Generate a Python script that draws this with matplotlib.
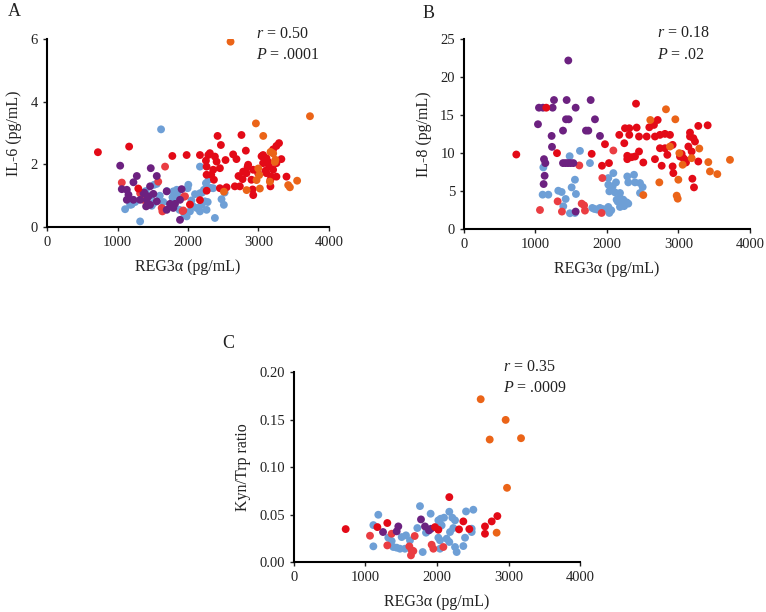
import matplotlib
matplotlib.use("Agg")
import matplotlib.pyplot as plt

plt.rcParams['font.family'] = ['Liberation Serif', 'DejaVu Serif']
plt.rcParams['mathtext.fontset'] = 'custom'
plt.rcParams['mathtext.it'] = 'Liberation Serif:italic'
plt.rcParams['mathtext.rm'] = 'Liberation Serif'

RED = '#E30A17'
LRED = '#EA3D42'
ORANGE = '#EB6418'
PURPLE = '#6C2180'
BLUE = '#6E9FD6'

# ---- Panel A : IL-6 vs REG3a ----
a_blue_x = [1618, 2170, 2005, 1995, 1557, 1792, 1840, 1321, 1108, 1179, 2075, 2028, 1981,
            2170, 2226, 2255, 2292, 2358, 2193, 2264, 2123, 2170, 2476, 2509, 2382, 2241,
            1509, 1792, 1840, 1486, 1200, 1250, 1340, 1400, 1430, 1480, 1520, 1600, 1650,
            1700, 1750, 1780, 1850, 1880, 1950, 2050, 2100, 2150, 2200, 2320, 2280, 2520]
a_blue_y = [3.12, 1.93, 1.35, 1.24, 1.38, 1.14, 1.19, 0.18, 0.57, 0.71, 0.66, 0.50, 0.34,
            1.08, 1.19, 1.40, 1.51, 1.24, 0.71, 0.55, 0.61, 0.50, 0.89, 0.71, 0.29, 0.82,
            0.76, 0.87, 1.03, 0.68, 0.72, 0.80, 1.10, 1.15, 0.70, 1.00, 1.35, 1.00, 0.80,
            1.15, 0.70, 0.95, 1.10, 0.55, 0.40, 0.85, 1.05, 0.60, 1.10, 1.25, 0.80, 1.10]
a_lred_x = [1061, 1675, 1934, 1627, 1637, 1321, 1368, 1958, 1578, 1943, 1924]
a_lred_y = [1.42, 1.93, 0.53, 0.61, 0.50, 1.08, 0.87, 0.98, 1.45, 0.97, 0.51]
a_purple_x = [1038, 1472, 1557, 1274, 1226, 1061, 1132, 1156, 1132, 1226, 1368, 1415, 1462,
              1439, 1509, 1557, 1406, 1462, 1698, 1745, 1792, 1698, 1887, 1910, 1887, 1816,
              1321, 1380]
a_purple_y = [1.96, 1.88, 1.63, 1.63, 1.43, 1.21, 1.19, 1.03, 0.87, 0.87, 1.08, 0.87, 1.30,
              0.98, 1.06, 0.82, 0.66, 0.71, 1.14, 0.74, 0.61, 0.55, 0.87, 1.21, 0.23, 0.74,
              0.87, 1.10]
a_red_x = [722, 1165, 1778, 1981, 2420, 2759, 2467, 2311, 2170, 2382, 2255, 2406, 2533, 2264,
           2358, 2453, 2641, 2688, 2821, 3066, 3113, 3066, 3151, 3208, 3255, 3208, 3255, 3292,
           3325, 3184, 3255, 3170, 3113, 3170, 3398, 2264, 2330, 2368, 2453, 2548, 2665, 2736,
           2717, 2783, 2854, 2925, 2995, 2901, 2830, 2917, 2926, 2265, 2170, 2028, 1295, 2288,
           3044, 3138, 3101, 2846, 2775]
a_red_y = [2.39, 2.57, 2.27, 2.30, 2.91, 2.94, 2.62, 2.36, 2.30, 2.25, 2.12, 2.09, 2.14, 1.93,
           1.83, 1.88, 2.32, 2.17, 2.44, 2.30, 2.20, 2.04, 1.93, 1.83, 2.04, 2.48, 2.59, 2.68,
           2.17, 1.61, 1.61, 1.30, 1.72, 1.51, 1.61, 1.67, 1.67, 1.51, 1.24, 1.27, 1.30, 1.30,
           1.63, 1.77, 1.99, 1.83, 1.72, 1.51, 1.72, 1.20, 1.02, 1.16, 0.86, 0.72, 1.23, 2.30,
           2.26, 2.08, 1.80, 1.92, 1.53]
a_orange_x = [2604, 3731, 2964, 3068, 3172, 3233, 3209, 2997, 3011, 2973, 3020, 2832, 2510,
              3162, 3422, 3446, 3549, 3240]
a_orange_y = [5.92, 3.54, 3.31, 2.91, 2.40, 2.08, 2.35, 1.87, 1.66, 1.50, 1.23, 1.18, 1.13,
              1.45, 1.34, 1.27, 1.48, 2.15]

# ---- Panel B : IL-8 vs REG3a ----
b_blue_x = [1478, 1622, 1762, 1110, 1100, 1180, 1319, 1366, 1422, 1389, 1506, 1552, 1552,
            1566, 1482, 1795, 1823, 1902, 2019, 2033, 2019, 2089, 2019, 2079, 2033, 2112,
            2135, 2126, 2182, 2182, 2228, 2205, 2275, 2182, 2252, 2298, 2284, 2298, 2378,
            2392, 2462, 2499, 2462, 1860, 1950, 2060, 2150, 2240]
b_blue_y = [9.58, 10.28, 8.67, 8.10, 4.51, 4.51, 5.03, 4.86, 3.94, 2.98, 5.47, 6.48, 2.10,
            4.60, 2.06, 2.76, 2.63, 2.76, 2.89, 2.10, 6.70, 7.35, 5.82, 5.60, 4.95, 4.81,
            3.85, 6.13, 4.73, 4.07, 3.85, 3.19, 3.50, 2.89, 3.33, 3.33, 6.91, 6.13, 7.13,
            6.13, 6.04, 5.51, 4.73, 2.55, 2.60, 2.45, 3.60, 3.00]
b_lred_x = [1063, 1310, 1370, 1613, 1646, 1680, 1692, 1925, 1935, 2089]
b_lred_y = [2.49, 3.63, 2.28, 8.36, 3.33, 3.10, 2.41, 2.10, 6.70, 10.33]
b_purple_x = [1459, 1049, 1105, 1240, 1259, 1436, 1562, 1772, 1035, 1427, 1464, 1832, 1385,
              1706, 1739, 1226, 1902, 1231, 1119, 1138, 1128, 1114, 1385, 1420, 1455, 1490,
              1530, 1562]
b_purple_y = [22.19, 15.97, 15.97, 15.97, 16.98, 16.98, 15.97, 16.98, 13.79, 14.44, 14.44,
              14.44, 12.95, 12.95, 12.95, 12.25, 12.25, 10.81, 9.19, 8.67, 7.00, 5.91, 8.67,
              8.67, 8.67, 8.67, 8.67, 2.28]
b_red_x = [732, 1151, 1301, 1786, 1930, 1972, 2028, 2172, 2242, 2252, 2312, 2312, 2406, 2415,
           2448, 2555, 2284, 2284, 2345, 2392, 2448, 2508, 2592, 2657, 2709, 2671, 2741, 2811,
           2881, 2671, 2741, 2811, 2844, 2765, 2918, 2918, 2928, 3021, 3044, 3068, 3105, 3161,
           3161, 3208, 3231, 3138, 3184, 3091, 3277, 3194, 3217, 3277, 3408]
b_red_y = [9.80, 15.97, 9.98, 9.89, 8.32, 11.16, 8.67, 12.39, 11.29, 13.26, 13.26, 12.39, 16.50,
           13.35, 12.17, 12.17, 9.63, 9.19, 9.45, 9.54, 10.20, 8.75, 13.39, 13.70, 14.35, 12.17,
           12.39, 12.52, 12.39, 9.19, 10.63, 10.63, 9.76, 8.32, 11.07, 8.23, 7.35, 9.54, 9.89,
           9.32, 8.75, 12.17, 12.69, 11.95, 11.51, 10.85, 10.20, 9.10, 13.57, 6.61, 5.47, 8.88,
           13.65]
b_orange_x = [2825, 2606, 2956, 2508, 2732, 2975, 2989, 2998, 3012, 3058, 3291, 3417, 3440,
              3543, 3720, 2881, 3184]
b_orange_y = [15.76, 14.35, 14.44, 4.46, 6.13, 4.38, 3.98, 6.48, 9.98, 8.45, 10.59, 8.80, 7.57,
              7.22, 9.10, 10.85, 9.32]

# ---- Panel C : Kyn/Trp ratio vs REG3a ----
c_blue_x = [1179, 1110, 1110, 1319, 1366, 1389, 1436, 1482, 1552, 1506, 1566, 1622, 1762,
            1800, 1911, 1725, 1846, 2019, 2051, 2098, 2172, 2214, 2252, 2228, 2182, 2019,
            2042, 2135, 2172, 2042, 2252, 2275, 2368, 2392, 2406, 2508, 2485, 2485, 2065]
c_blue_y = [0.0498, 0.0389, 0.0165, 0.0256, 0.0221, 0.0158, 0.0151, 0.0140, 0.0140, 0.0263,
            0.0281, 0.0228, 0.0589, 0.0105, 0.0509, 0.0358, 0.0309, 0.0439, 0.0456, 0.0467,
            0.0530, 0.0467, 0.0439, 0.0358, 0.0316, 0.0256, 0.0228, 0.0246, 0.0211, 0.0140,
            0.0158, 0.0105, 0.0168, 0.0256, 0.0533, 0.0551, 0.0351, 0.0316, 0.0386]
c_lred_x = [1063, 1305, 1366, 1688, 1613, 1646, 1669, 1636, 1925, 1949, 2089]
c_lred_y = [0.0277, 0.0175, 0.0298, 0.0274, 0.0165, 0.0123, 0.0116, 0.0070, 0.0182, 0.0140,
            0.0158]
c_purple_x = [1245, 1459, 1436, 1776, 1832, 1888, 1915]
c_purple_y = [0.0316, 0.0375, 0.0323, 0.0449, 0.0375, 0.0333, 0.0350]
c_red_x = [723, 1166, 1305, 2172, 2308, 2368, 2452, 2671, 2671, 2765, 2844, 2019, 1972]
c_red_y = [0.0347, 0.0368, 0.0411, 0.0684, 0.0344, 0.0428, 0.0347, 0.0375, 0.0298, 0.0428,
           0.0484, 0.0340, 0.0368]
c_orange_x = [2611, 2960, 2737, 3175, 2979, 2834]
c_orange_y = [0.1716, 0.1498, 0.1291, 0.1305, 0.0782, 0.0309]


def panel(ax, groups, ymax, yticks, yfmt, ylabel, r_txt, p_txt, tx):
    for xs, ys, col in groups:
        ax.scatter(xs, ys, s=32, color=col, edgecolors='none', zorder=3)
    ax.set_xlim(0, 4000)
    ax.set_ylim(0, ymax)
    ax.set_xticks([0, 1000, 2000, 3000, 4000])
    ax.set_yticks(yticks)
    ax.set_yticklabels([yfmt.format(v) for v in yticks])
    for s in ['top', 'right']:
        ax.spines[s].set_visible(False)
    for s in ['left', 'bottom']:
        ax.spines[s].set_linewidth(1.5)
    ax.tick_params(direction='out', length=3, width=1, labelsize=10.5, colors='#222222')
    ax.set_xlabel('REG3α (pg/mL)', fontsize=11.5, color='#222222', labelpad=7)
    ax.set_ylabel(ylabel, fontsize=11.5, color='#222222', labelpad=6)
    ax.text(tx, 1.03, r'$\mathit{r}$ = ' + r_txt, transform=ax.transAxes, fontsize=11.5,
            va='center', color='#222222')
    ax.text(tx, 0.915, r'$\mathit{P}$ = ' + p_txt, transform=ax.transAxes, fontsize=11.5,
            va='center', color='#222222')


fig = plt.figure(figsize=(7.66, 6.12), dpi=100)
axA = fig.add_axes([0.0614, 0.629, 0.368, 0.307])
axB = fig.add_axes([0.6057, 0.626, 0.3734, 0.310])
axC = fig.add_axes([0.3838, 0.0817, 0.3734, 0.310])

panel(axA, [(a_blue_x, a_blue_y, BLUE), (a_lred_x, a_lred_y, LRED),
            (a_purple_x, a_purple_y, PURPLE), (a_red_x, a_red_y, RED),
            (a_orange_x, a_orange_y, ORANGE)],
      6, [0, 2, 4, 6], '{:g}', 'IL-6 (pg/mL)', '0.50', '.0001', 0.74)
panel(axB, [(b_blue_x, b_blue_y, BLUE), (b_lred_x, b_lred_y, LRED),
            (b_purple_x, b_purple_y, PURPLE), (b_red_x, b_red_y, RED),
            (b_orange_x, b_orange_y, ORANGE)],
      25, [0, 5, 10, 15, 20, 25], '{:g}', 'IL-8 (pg/mL)', '0.18', '.02', 0.675)
panel(axC, [(c_blue_x, c_blue_y, BLUE), (c_lred_x, c_lred_y, LRED),
            (c_purple_x, c_purple_y, PURPLE), (c_red_x, c_red_y, RED),
            (c_orange_x, c_orange_y, ORANGE)],
      0.2, [0, 0.05, 0.10, 0.15, 0.20], '{:.2f}', 'Kyn/Trp ratio', '0.35', '.0009', 0.73)

fig.text(8 / 766, 1 - 12 / 612, 'A', fontsize=13, va='center', color='#222222')
fig.text(423 / 766, 1 - 13 / 612, 'B', fontsize=13, va='center', color='#222222')
fig.text(222 / 766, 1 - 343 / 612, 'C', fontsize=13, va='center', color='#222222')

fig.savefig('out.png', dpi=100)
